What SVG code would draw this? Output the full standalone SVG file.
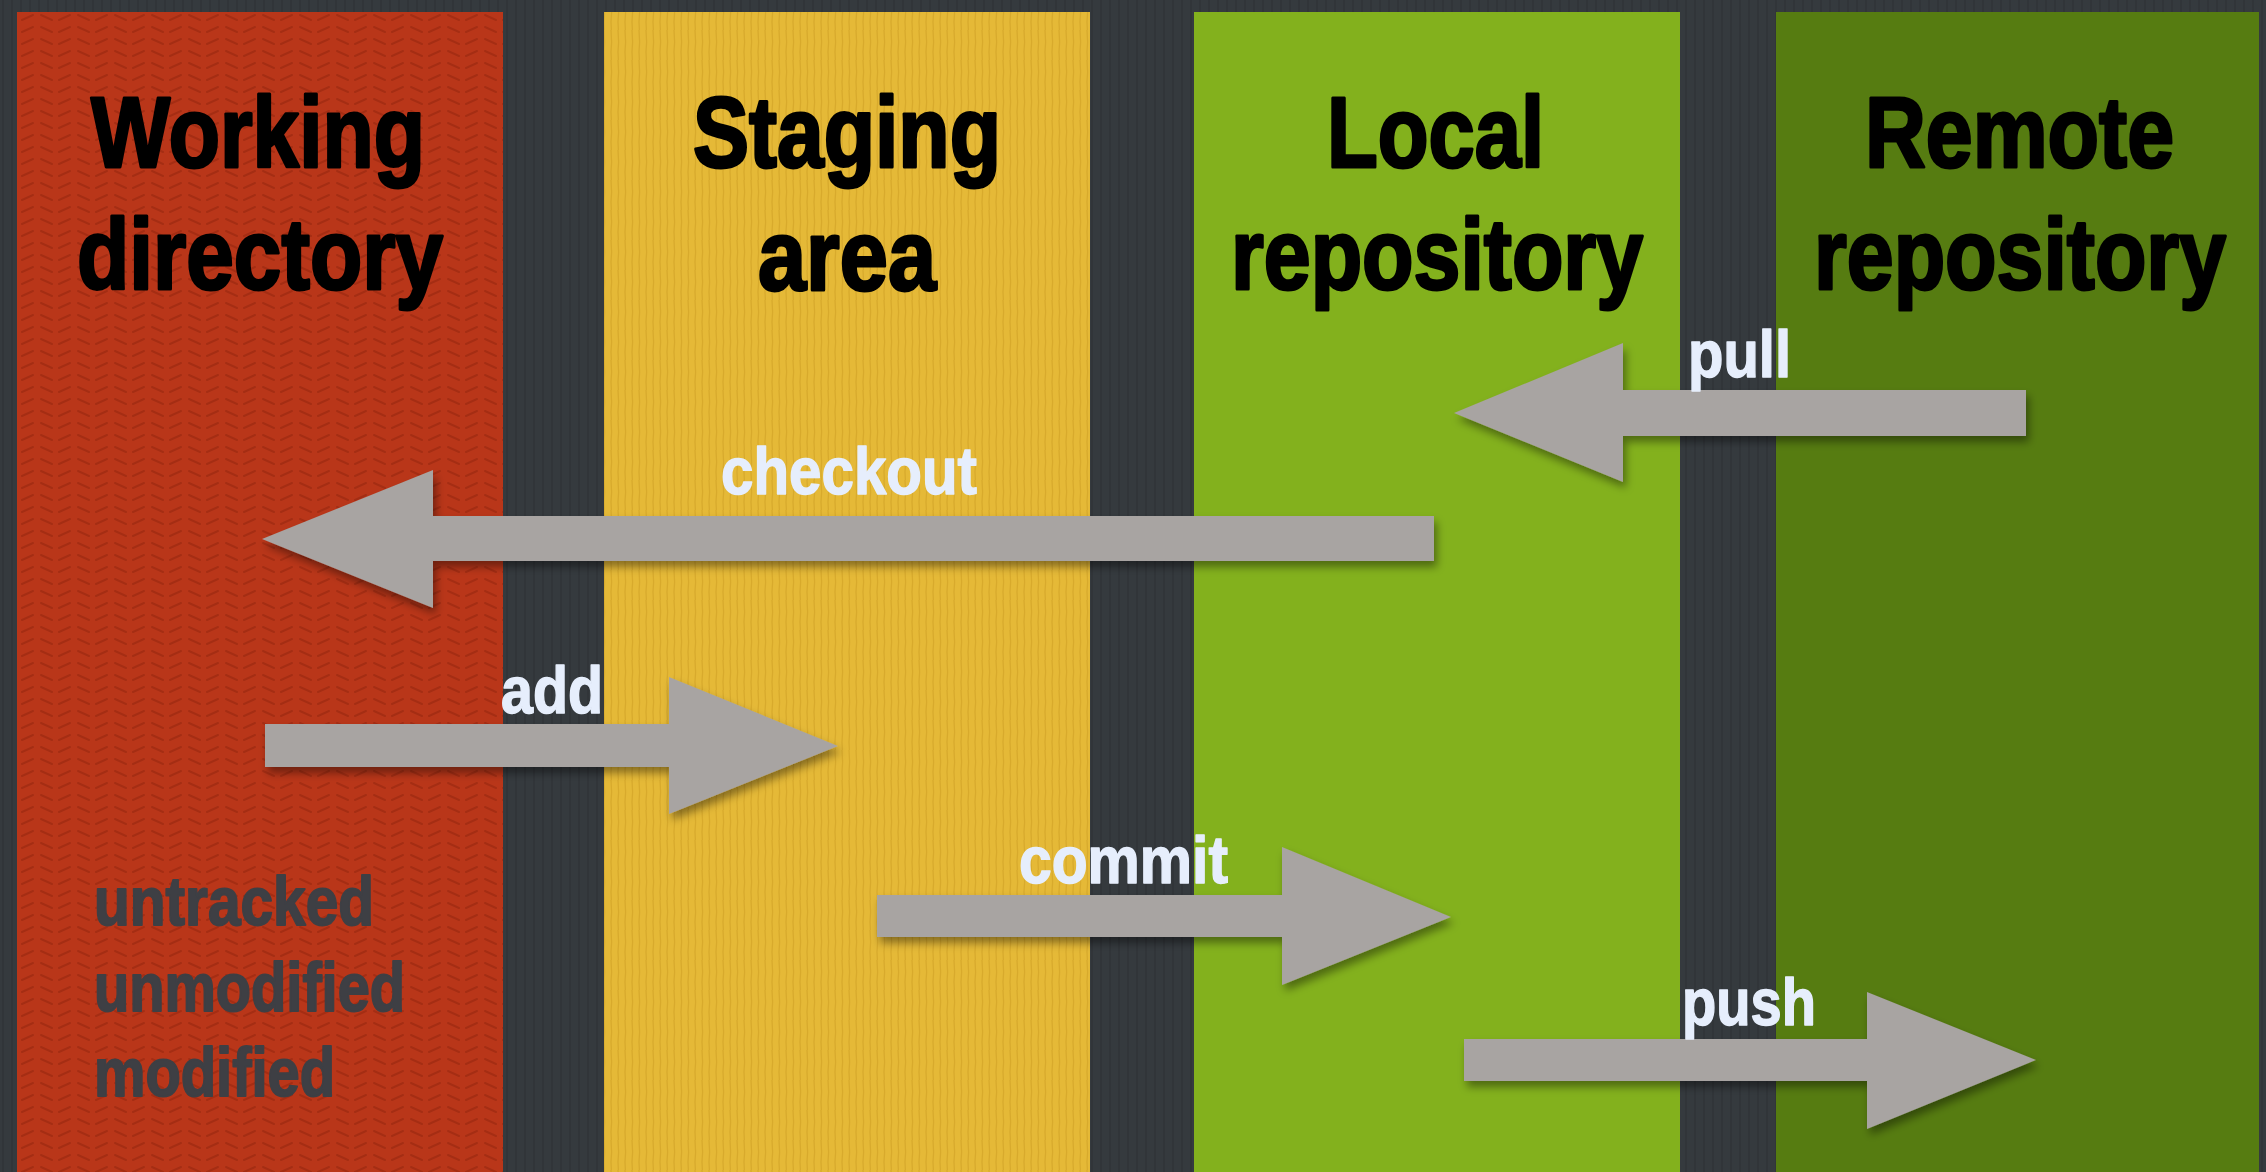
<svg xmlns="http://www.w3.org/2000/svg" width="2266" height="1172" viewBox="0 0 2266 1172">
  <style>
    .title { font-family: "Liberation Sans Narrow", "Liberation Sans", Arial, sans-serif; font-weight: bold; font-size: 100px; fill: #000000; stroke: #000000; stroke-width: 3px; stroke-linejoin: round; }
    .status { font-family: "Liberation Sans Narrow", "Liberation Sans", Arial, sans-serif; font-weight: bold; font-size: 68px; fill: #3e3f44; stroke: #3e3f44; stroke-width: 2px; stroke-linejoin: round; }
    .label { font-family: "Liberation Sans Narrow", "Liberation Sans", Arial, sans-serif; font-weight: bold; font-size: 67px; fill: #e6eefc; stroke: #e6eefc; stroke-width: 1.5px; stroke-linejoin: round; }
    .arrow { fill: #a8a4a2; filter: url(#shadow); }
  </style>
  <defs>
    <pattern id="bgTex" width="9" height="40" patternUnits="userSpaceOnUse">
      <rect width="9" height="40" fill="#353a3e"/>
      <line x1="3" y1="0" x2="3" y2="40" stroke="#2f3337" stroke-width="1.5"/>
    </pattern>
    <pattern id="chevron" width="37" height="12" patternUnits="userSpaceOnUse">
      <rect width="37" height="12" fill="#b93619"/>
      <path d="M4 3 L15 8 M22 8 L33 3" stroke="#a52d13" stroke-width="2" fill="none" stroke-linecap="round"/>
    </pattern>
    <pattern id="fiber" width="7" height="30" patternUnits="userSpaceOnUse">
      <rect width="7" height="30" fill="#e5b937"/>
      <path d="M2 0 L2.6 12 L2 22 L2.4 30" stroke="#d8aa2c" stroke-width="1.3" fill="none"/>
    </pattern>
    <filter id="shadow" x="-10%" y="-30%" width="120%" height="170%">
      <feDropShadow dx="3" dy="6" stdDeviation="4" flood-color="#000000" flood-opacity="0.4"/>
    </filter>
  </defs>

  <rect x="0" y="0" width="2266" height="1172" fill="url(#bgTex)"/>

  <g id="working-directory">
    <rect x="17" y="12" width="486" height="1160" fill="url(#chevron)"/>
    <text class="title" x="91" y="167" textLength="334" lengthAdjust="spacingAndGlyphs">Working</text>
    <text class="title" x="77" y="289" textLength="366" lengthAdjust="spacingAndGlyphs">directory</text>
    <text class="status" x="94" y="925" textLength="280" lengthAdjust="spacingAndGlyphs">untracked</text>
    <text class="status" x="94" y="1011" textLength="311" lengthAdjust="spacingAndGlyphs">unmodified</text>
    <text class="status" x="94" y="1096" textLength="241" lengthAdjust="spacingAndGlyphs">modified</text>
  </g>

  <g id="staging-area">
    <rect x="604" y="12" width="486" height="1160" fill="url(#fiber)"/>
    <text class="title" x="693" y="167" textLength="308" lengthAdjust="spacingAndGlyphs">Staging</text>
    <text class="title" x="758" y="290" textLength="178" lengthAdjust="spacingAndGlyphs">area</text>
  </g>

  <g id="local-repository">
    <rect x="1194" y="12" width="486" height="1160" fill="#83b11d"/>
    <text class="title" x="1327" y="167" textLength="217" lengthAdjust="spacingAndGlyphs">Local</text>
    <text class="title" x="1231" y="289" textLength="412" lengthAdjust="spacingAndGlyphs">repository</text>
  </g>

  <g id="remote-repository">
    <rect x="1776" y="12" width="483" height="1160" fill="#567c11"/>
    <text class="title" x="1865" y="167" textLength="309" lengthAdjust="spacingAndGlyphs">Remote</text>
    <text class="title" x="1814" y="289" textLength="412" lengthAdjust="spacingAndGlyphs">repository</text>
  </g>

  <g id="connectors">
    <g id="pull">
      <polygon class="arrow" points="1454,413 1623,343 1623,390 2026,390 2026,436 1623,436 1623,482"/>
      <text class="label" x="1688" y="377" textLength="103" lengthAdjust="spacingAndGlyphs">pull</text>
    </g>
    <g id="checkout">
      <polygon class="arrow" points="262,539 433,470 433,516 1434,516 1434,561 433,561 433,608"/>
      <text class="label" x="721" y="494" textLength="256" lengthAdjust="spacingAndGlyphs">checkout</text>
    </g>
    <g id="add">
      <polygon class="arrow" points="265,724 669,724 669,677 838,746 669,814 669,767 265,767"/>
      <text class="label" x="501" y="713" textLength="102" lengthAdjust="spacingAndGlyphs">add</text>
    </g>
    <g id="commit">
      <polygon class="arrow" points="877,895 1282,895 1282,847 1451,917 1282,985 1282,937 877,937"/>
      <text class="label" x="1019" y="883" textLength="209" lengthAdjust="spacingAndGlyphs">commit</text>
    </g>
    <g id="push">
      <polygon class="arrow" points="1464,1039 1867,1039 1867,992 2036,1060 1867,1129 1867,1081 1464,1081"/>
      <text class="label" x="1682" y="1025" textLength="134" lengthAdjust="spacingAndGlyphs">push</text>
    </g>
  </g>
</svg>
